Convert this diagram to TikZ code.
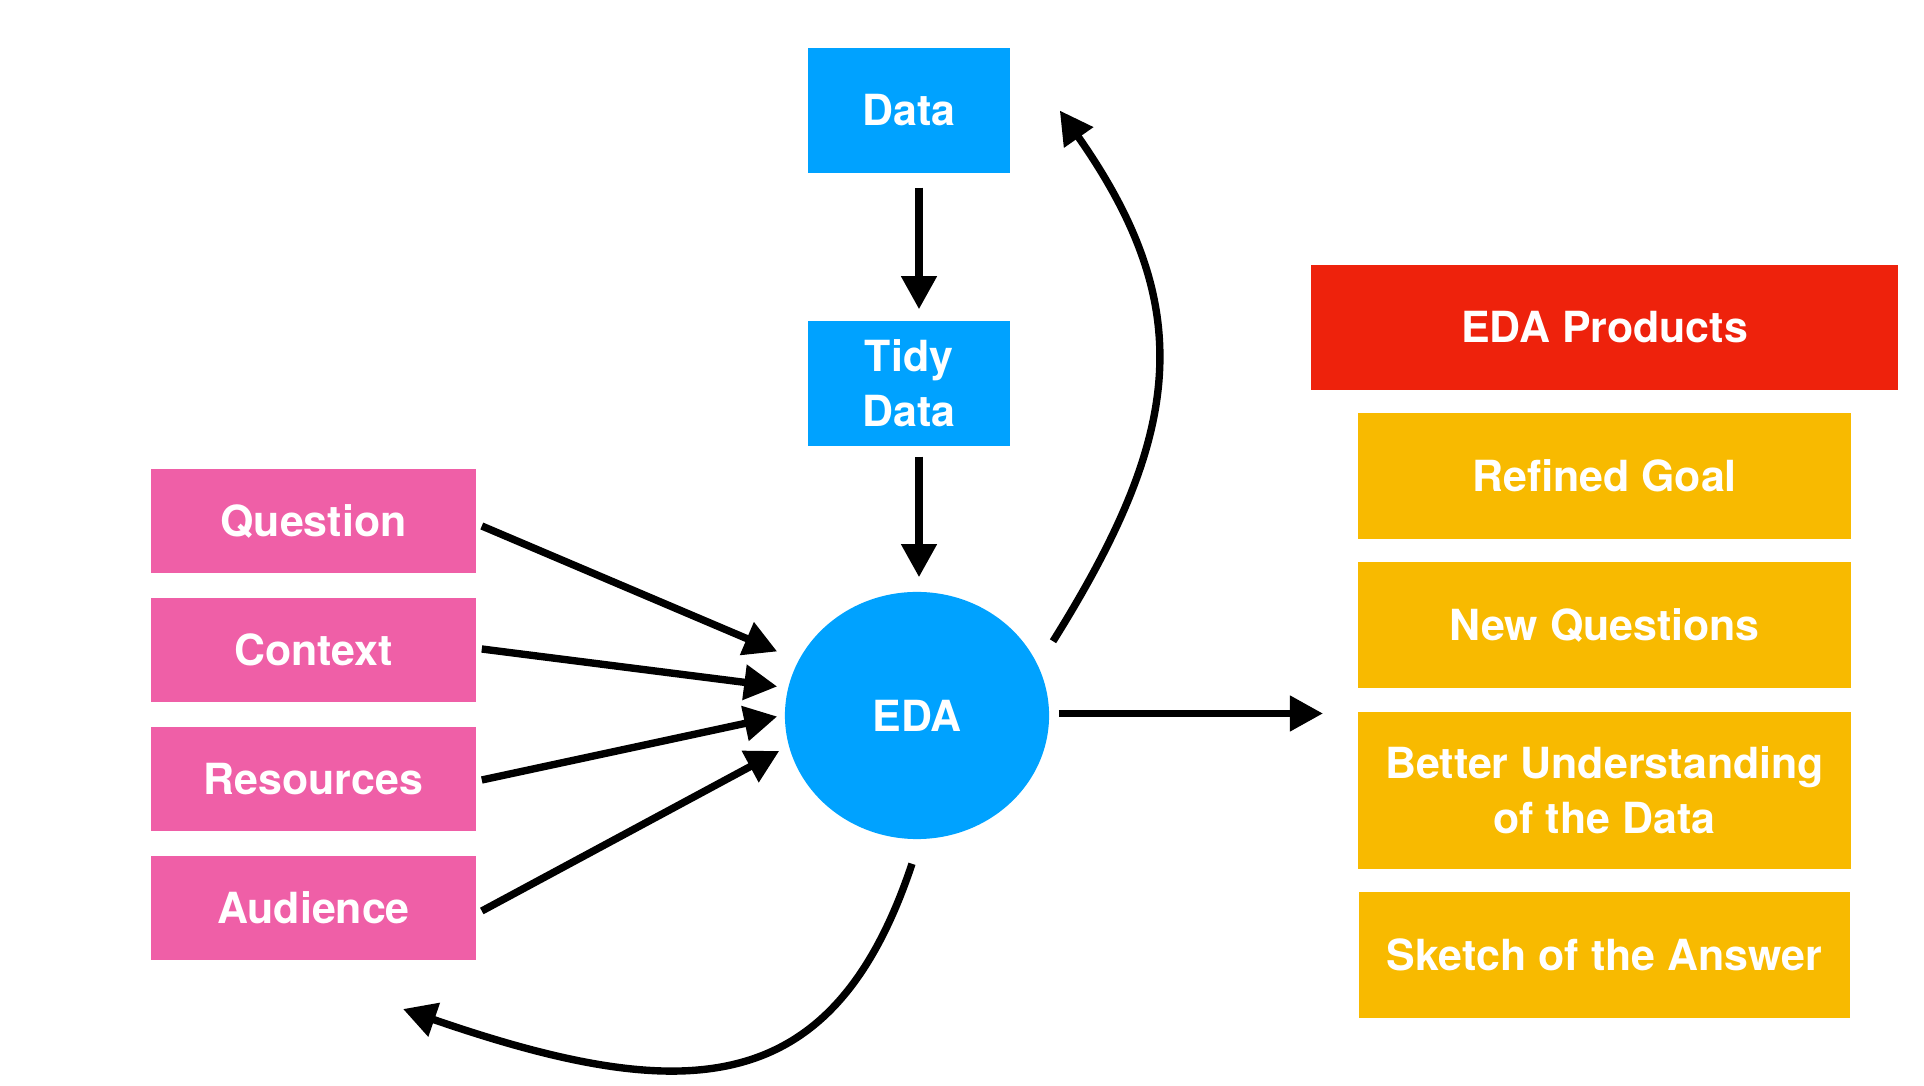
\documentclass[tikz,border=0pt]{standalone}
\usepackage{fontspec}
\setmainfont{TeX Gyre Heros}
\usetikzlibrary{arrows.meta, calc, shapes.geometric}

\definecolor{edablue}{HTML}{00A2FF}
\definecolor{edapink}{HTML}{EF5FA7}
\definecolor{edared}{HTML}{EE220C}
\definecolor{edayellow}{HTML}{F8BA00}

\begin{document}
\begin{tikzpicture}[x=0.01cm, y=-0.01cm,
  every node/.style = {text=white, inner sep=0pt, align=center, font=\fontsize{12.2}{15.6}\selectfont\bfseries},
  databox/.style = {rectangle, fill=edablue, minimum width=2.02cm, minimum height=1.25cm},
  inputbox/.style = {rectangle, fill=edapink, minimum width=3.25cm, minimum height=1.04cm},
  headbox/.style = {rectangle, fill=edared, minimum width=5.87cm, minimum height=1.25cm},
  productbox/.style = {rectangle, fill=edayellow, minimum width=4.93cm, minimum height=1.25cm},
  flow/.style = {line width=2.1pt, -{Triangle[length=0.33cm, width=0.34cm]}}]
  \useasboundingbox (0,0) rectangle (1924,1086);

  \node [databox] (data) at (909,110.5) {Data};
  \node [databox] (tidy) at (909,383.5) {Tidy\\Data};
  \node [ellipse, fill=edablue, minimum width=2.64cm, minimum height=2.47cm] (eda) at (917,715.5) {EDA};

  \node [inputbox] (question)  at (313.5,521) {Question};
  \node [inputbox] (context)   at (313.5,650) {Context};
  \node [inputbox] (resources) at (313.5,779) {Resources};
  \node [inputbox] (audience)  at (313.5,908) {Audience};

  \node [headbox] (products) at (1604.5,327.5) {EDA Products};
  \node [productbox] (goal)   at (1604.5,476) {Refined Goal};
  \node [productbox, minimum height=1.26cm] (newq) at (1604.5,625) {New Questions};
  \node [productbox, minimum height=1.57cm] (better) at (1604.5,790.5) {Better Understanding\\of the Data};
  \node [productbox, minimum width=4.9cm, minimum height=1.26cm] (sketch) at (1604.5,955) {Sketch of the Answer};

  \coordinate (out) at (1323,713.5);
  \coordinate (back) at (403,1009);

  \draw [flow] ($(data.south)+(10,14)$) -- ($(tidy.north)+(10,-11)$);
  \draw [flow] ($(tidy.south)+(10,10)$) -- ($(eda.north)+(2,-14)$);

  \draw [flow] ($(question.east)+(5,5)$)   -- ($(eda.west)+(-7,-64)$);
  \draw [flow] ($(context.east)+(5,-1)$)   -- ($(eda.west)+(-7,-29)$);
  \draw [flow] ($(resources.east)+(5,1)$)  -- ($(eda.west)+(-7,1)$);
  \draw [flow] ($(audience.east)+(5,3)$)   -- ($(eda.west)+(-5,35.5)$);

  \draw [flow] ($(eda.east)+(9,-2)$) -- (out);
  \draw [flow] ($(eda.30)+(23,-9)$) .. controls +(128.8,-206.1) and +(139.5,199) .. ($(data.east)+(49,0)$);
  \draw [flow] ($(eda.south)+(-5,24)$) .. controls +(-79,237) and +(284,98) .. (back);
\end{tikzpicture}
\end{document}
